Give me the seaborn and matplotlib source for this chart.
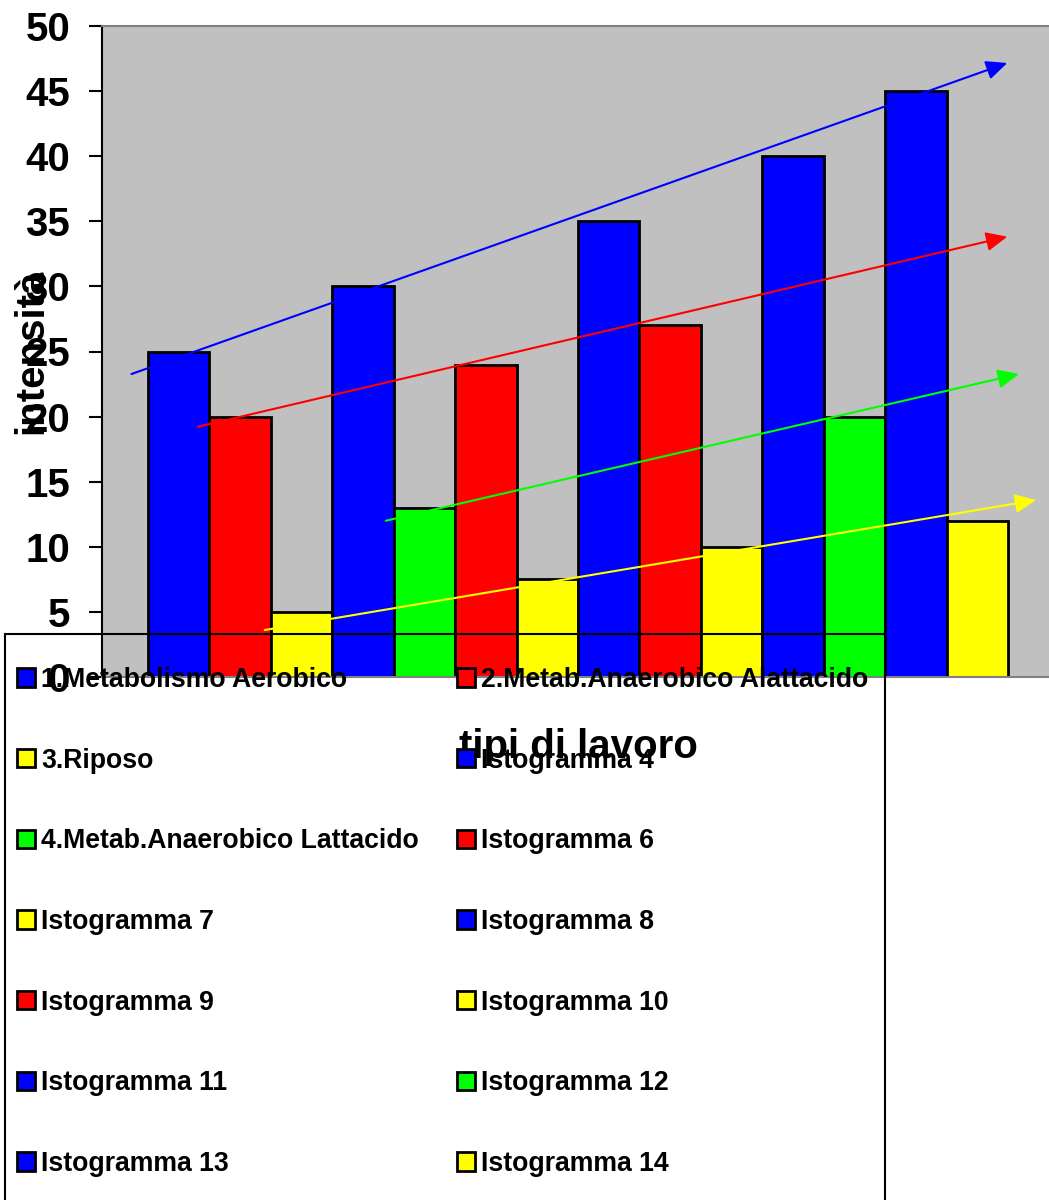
import matplotlib
matplotlib.use("Agg")
import matplotlib.pyplot as plt
from matplotlib.patches import Rectangle
import seaborn as sns
import pandas as pd

# Series shown as bars, left to right
series_labels = [
    "1.Metabolismo Aerobico", "2.Metab.Anaerobico Alattacido", "3.Riposo",
    "Istogramma 4", "4.Metab.Anaerobico Lattacido", "Istogramma 6",
    "Istogramma 7", "Istogramma 8", "Istogramma 9", "Istogramma 10",
    "Istogramma 11", "Istogramma 12", "Istogramma 13", "Istogramma 14",
]
series_values = [25, 20, 5, 30, 13, 24, 7.5, 35, 27, 10, 40, 20, 45, 12]
series_colors = [
    "#0000FF", "#FF0000", "#FFFF00", "#0000FF", "#00FF00", "#FF0000",
    "#FFFF00", "#0000FF", "#FF0000", "#FFFF00", "#0000FF", "#00FF00",
    "#0000FF", "#FFFF00",
]
y_ticks = [0, 5, 10, 15, 20, 25, 30, 35, 40, 45, 50]

# Trend arrows (start -> tip) in bar-index / value units
trend_colors = ["#0000FF", "#FF0000", "#00FF00", "#FFFF00"]
trend_start = [(-0.77, 23.27), (0.31, 19.22), (3.37, 12.0), (1.40, 3.61)]
trend_end = [(13.49, 47.16), (13.49, 33.82), (13.68, 23.27), (13.96, 13.59)]

sns.set_style("white")
plt.rcParams["font.family"] = ["Liberation Sans", "DejaVu Sans"]
plt.rcParams["font.weight"] = "bold"
for key in ["text.color", "axes.labelcolor", "xtick.color", "ytick.color"]:
    plt.rcParams[key] = "black"

W, H = 1049, 1200
fig = plt.figure(figsize=(W / 100, H / 100), dpi=100)
fig.patch.set_facecolor("white")
ax = fig.add_axes([102 / W, 1 - 677 / H, 952 / W, 651 / H])
ax.set_facecolor("#C0C0C0")

df = pd.DataFrame({"serie": series_labels, "valore": series_values})
palette = dict(zip(series_labels, series_colors))
sns.barplot(data=df, x="serie", y="valore", hue="serie", order=series_labels,
            hue_order=series_labels, palette=palette, width=1.0, dodge=False,
            edgecolor="black", linewidth=2, saturation=1, legend=False, ax=ax,
            zorder=2)

for c, s, e in zip(trend_colors, trend_start, trend_end):
    ax.annotate("", xy=e, xytext=s, zorder=4,
                arrowprops=dict(arrowstyle="-|>,head_length=0.4,head_width=0.18",
                                color=c, lw=1.5, mutation_scale=32,
                                shrinkA=0, shrinkB=0))

ax.set_xlim(-1.25, 14.25)
ax.set_ylim(0, 50)
ax.set_yticks(y_ticks)
ax.set_xticks([])
ax.tick_params(axis="y", direction="out", length=9.4, width=1.5, pad=13.5,
               labelsize=29, colors="black", left=True)
for lab in ax.get_yticklabels():
    lab.set_fontweight("bold")

for side in ["top", "bottom", "right"]:
    ax.spines[side].set_color("#808080")
    ax.spines[side].set_linewidth(1.5)
ax.spines["left"].set_color("black")
ax.spines["left"].set_linewidth(1.5)

ax.set_xlabel("tipi di lavoro", fontsize=29, fontweight="bold", color="black")
ax.xaxis.set_label_coords(0.5, (677 - 758) / 651)
ax.xaxis.label.set_va("baseline")
ax.set_ylabel("intensità", fontsize=29, fontweight="bold", color="black")
ax.yaxis.set_label_coords((31 - 102) / 952, 0.5)
ax.yaxis.label.set_va("center")
ax.yaxis.label.set_ha("center")

# Legend: rows read left-to-right, two columns
handles = list(ax.patches)[:len(series_labels)]
order = list(range(0, 14, 2)) + list(range(1, 14, 2))
leg = fig.legend([handles[i] for i in order], [series_labels[i] for i in order],
                 ncol=2, loc="upper left",
                 bbox_to_anchor=(17 / W, 1 - 667 / H), bbox_transform=fig.transFigure,
                 frameon=False, borderpad=0, borderaxespad=0,
                 prop={"weight": "bold", "size": 19.2},
                 handlelength=0.68, handleheight=0.68, handletextpad=0.22,
                 labelspacing=2.05, columnspacing=1.43)
for t in leg.get_texts():
    t.set_color("black")
leg.set_zorder(6)

fig.patches.append(Rectangle((5 / W, -0.05), (885 - 5) / W, (1 - 634 / H) + 0.05,
                             transform=fig.transFigure, fill=False,
                             edgecolor="black", linewidth=1.5, zorder=5))

fig.savefig("out.png", dpi=100)
